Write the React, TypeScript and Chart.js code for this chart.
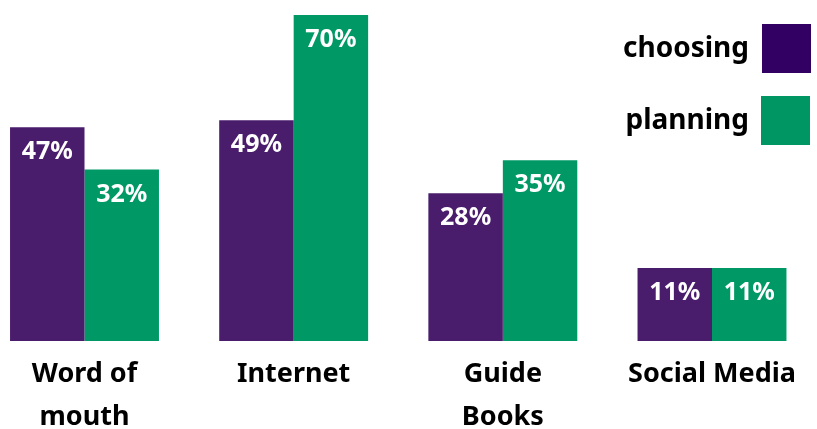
import React, { useEffect, useRef } from "react";
import { Chart, registerables } from "chart.js";

Chart.register(...registerables);

// Categories (tick labels, multi-line)
const categories: string[][] = [["Word of", "mouth"], ["Internet"], ["Guide", "Books"], ["Social Media"]];

// Series names
const seriesNames = ["choosing", "planning"];

// Bar heights as drawn in the picture (scale units: the 70% bar = 70)
const choosingValues = [45.9, 47.4, 31.7, 15.7];
const planningValues = [36.8, 70, 38.8, 15.7];

// Printed value labels
const choosingLabels = ["47%", "49%", "28%", "11%"];
const planningLabels = ["32%", "70%", "35%", "11%"];

const FONT = "'Noto Sans', 'DejaVu Sans', sans-serif";
const BAR_PURPLE = "#4a1c6c";
const BAR_GREEN = "#009966";
const LEGEND_PURPLE = "#310062";
const LEGEND_GREEN = "#009664";

const valueLabelPlugin = {
  id: "valueLabels",
  afterDatasetsDraw(chart: any) {
    const ctx = chart.ctx;
    ctx.save();
    ctx.font = `bold 25px ${FONT}`;
    ctx.fillStyle = "#ffffff";
    ctx.textAlign = "center";
    ctx.textBaseline = "alphabetic";
    chart.data.datasets.forEach((ds: any, di: number) => {
      const meta = chart.getDatasetMeta(di);
      meta.data.forEach((bar: any, i: number) => {
        const text = ds.valueLabels[i];
        ctx.fillText(text, bar.x, bar.y + 32);
      });
    });
    ctx.restore();
  },
};

const sideLegendPlugin = {
  id: "sideLegend",
  afterDraw(chart: any) {
    const ctx = chart.ctx;
    const colors = [LEGEND_PURPLE, LEGEND_GREEN];
    ctx.save();
    ctx.font = `bold 28px ${FONT}`;
    ctx.textAlign = "right";
    ctx.textBaseline = "alphabetic";
    chart.data.datasets.forEach((ds: any, di: number) => {
      const boxTop = 24 + di * 72;
      const boxSize = 49;
      ctx.fillStyle = colors[di];
      ctx.fillRect(762 - di, boxTop, boxSize, boxSize);
      ctx.fillStyle = "#000000";
      ctx.fillText(ds.label, 749, boxTop + boxSize / 2 + 8);
    });
    ctx.restore();
  },
};

export default function App() {
  const canvasRef = useRef<HTMLCanvasElement | null>(null);

  useEffect(() => {
    if (!canvasRef.current) return;
    const chart = new Chart(canvasRef.current, {
      type: "bar",
      data: {
        labels: categories,
        datasets: [
          {
            label: seriesNames[0],
            data: choosingValues,
            backgroundColor: BAR_PURPLE,
            borderWidth: 0,
            clip: false,
            valueLabels: choosingLabels,
          } as any,
          {
            label: seriesNames[1],
            data: planningValues,
            backgroundColor: BAR_GREEN,
            borderWidth: 0,
            clip: false,
            valueLabels: planningLabels,
          } as any,
        ],
      },
      options: {
        animation: false,
        responsive: true,
        maintainAspectRatio: false,
        categoryPercentage: 0.712,
        barPercentage: 1,
        layout: { padding: { left: 84.5, right: 105, top: 15, bottom: 0 } },
        plugins: {
          legend: { display: false },
          tooltip: { enabled: false },
        },
        scales: {
          x: {
            type: "category",
            offset: false,
            grid: { display: false, drawTicks: false, offset: false },
            border: { display: false },
            ticks: {
              color: "#000000",
              padding: 12,
              maxRotation: 0,
              autoSkip: false,
              font: { family: FONT, size: 27, weight: "bold", lineHeight: "43px" } as any,
            },
          },
          y: {
            display: false,
            min: 0,
            max: 70,
          },
        },
      } as any,
      plugins: [valueLabelPlugin, sideLegendPlugin],
    });
    return () => chart.destroy();
  }, []);

  return (
    <div style={{ position: "fixed", left: 0, top: 0, width: 817, height: 451, background: "#ffffff" }}>
      <canvas ref={canvasRef} />
    </div>
  );
}
